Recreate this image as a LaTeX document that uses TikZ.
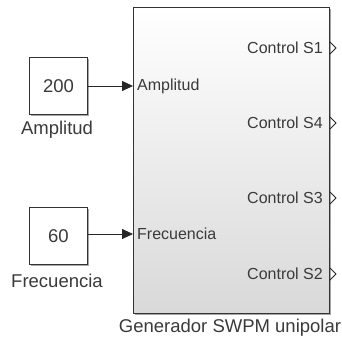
\documentclass[tikz,border=0pt]{standalone}
\usepackage{fontspec}
\setmainfont{Liberation Sans}
\usetikzlibrary{arrows.meta,positioning}
\definecolor{txt}{HTML}{3A3A3A}
\begin{document}
\begin{tikzpicture}[x=1pt,y=-1pt,
  blk/.style={draw=black!80, line width=1pt, inner sep=0pt, anchor=north west},
  lbl/.style={font=\fontsize{18.5}{18.5}\selectfont, text=txt, inner sep=0pt},
  port/.style={font=\fontsize{16}{16}\selectfont, text=txt, inner sep=0pt},
  conn/.style={draw=black!85, line width=0.8pt, -{Triangle[length=11pt,width=10pt]}},
  outp/.style={draw=black!85, line width=1pt}
]
\useasboundingbox (0,0) rectangle (342,343);
% shadows
\fill[black!35] (31,59) rectangle (89,116);
\fill[black!35] (31,209) rectangle (89,266);
\fill[black!35] (135,9) rectangle (331,315);
% constant blocks
\node[blk, fill=white, minimum width=58pt, minimum height=57pt] (c1) at (29,57) {};
\node[font=\fontsize{18.5}{18.5}\selectfont, text=txt] (v1) at (c1.center) {200};
\node[lbl] (l1) at (57,130) {Amplitud};
\node[blk, fill=white, minimum width=58pt, minimum height=57pt] (c2) at (29,207) {};
\node[font=\fontsize{18.5}{18.5}\selectfont, text=txt] (v2) at (c2.center) {60};
\node[lbl] (l2) at (57,281) {Frecuencia};
% main block
\shade[top color=white, bottom color=black!15] (133,7) rectangle (329,313);
\node[blk, minimum width=196pt, minimum height=306pt] (g) at (133,7) {};
\node[lbl] (lg) at (230,328) {Generador SWPM unipolar};
% input ports
\coordinate (in1) at (133,86);
\coordinate (in2) at (133,234);
\node[port, anchor=west] (p1) at (137,86) {Amplitud};
\node[port, anchor=west] (p2) at (137,234) {Frecuencia};
\draw[conn] (c1.east |- in1) -- (in1);
\draw[conn] (c2.east |- in2) -- (in2);
% output ports
\foreach \y/\t in {48/Control S1,123/Control S4,198/Control S3,274/Control S2}{
  \node[port, anchor=east] at (323,\y) {\t};
  \draw[outp] (330,\y-6) -- (336,\y) -- (330,\y+6);
}
\end{tikzpicture}
\end{document}
